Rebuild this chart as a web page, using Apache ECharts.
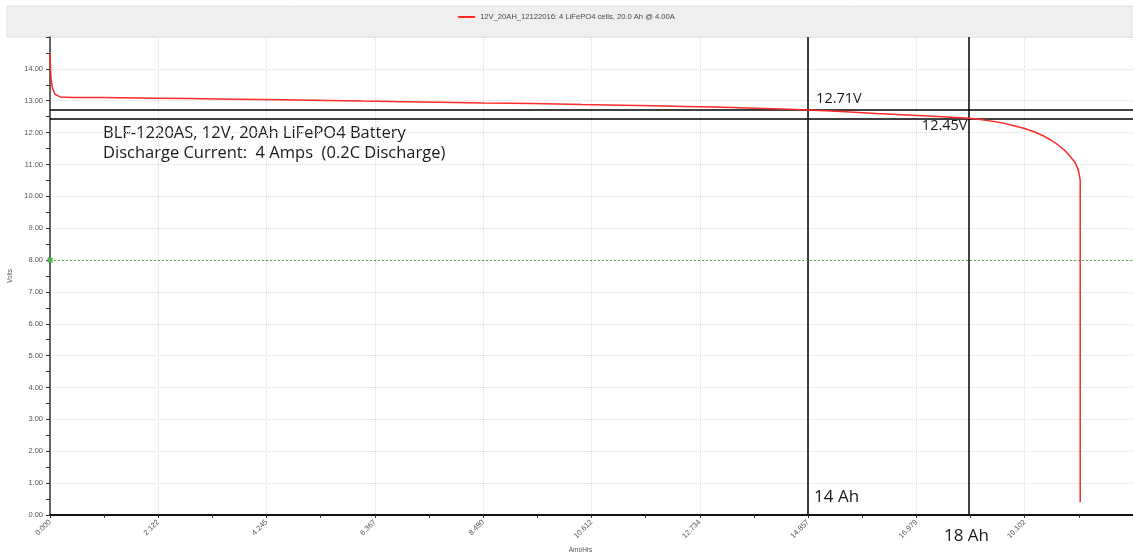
<!DOCTYPE html>
<html>
<head>
<meta charset="utf-8">
<script src="https://cdn.jsdelivr.net/npm/echarts@6/dist/echarts.min.js"></script>
<style>
  html, body { margin: 0; padding: 0; background: #ffffff; }
  #chart { width: 1133px; height: 552px; }
</style>
</head>
<body>
<div id="chart"></div>
<script>
// Discharge test of a 4-cell LiFePO4 pack at 4 A
const seriesName = '12V_20AH_12122016: 4 LiFePO4 cells, 20.0 Ah @ 4.00A';

const ampHours = [0, 0.01, 0.02, 0.05, 0.1, 0.2, 0.46, 1.0, 2.1, 2.73, 3.6, 4.56, 5.44, 6.14,
  6.92, 7.62, 8.5, 9.46, 10.42, 11.21, 11.82, 12.43, 13.04, 13.52, 14.0, 14.49, 14.86, 15.5,
  16.2, 17.0, 17.5, 18.0, 18.2, 18.45, 18.7, 18.91, 19.1, 19.3, 19.45, 19.62, 19.75, 19.88,
  19.98, 20.08, 20.14, 20.17, 20.19, 20.19];
const volts = [14.48, 14.0, 13.7, 13.38, 13.2, 13.12, 13.1, 13.1, 13.08, 13.07, 13.05, 13.03,
  13.01, 12.99, 12.97, 12.95, 12.93, 12.91, 12.88, 12.86, 12.84, 12.82, 12.8, 12.78, 12.76,
  12.73, 12.71, 12.66, 12.6, 12.54, 12.5, 12.45, 12.42, 12.36, 12.29, 12.21, 12.13, 12.02,
  11.91, 11.76, 11.62, 11.45, 11.28, 11.08, 10.88, 10.7, 10.5, 0.4];

const xTickStep = 2.12245;
const xTickLabels = ['0.000', '2.122', '4.245', '6.367', '8.490', '10.612', '12.734',
  '14.857', '16.979', '19.102', ''];
const yMax = 15;

const cutoffVolts = 8.0;
const refVolts = [12.71, 12.45];
const refVoltLabels = ['12.71V', '12.45V'];
const refAmpHours = [14.857, 18.0];
const refAmpLabels = ['14 Ah', '18 Ah'];
const noteLines = ['BLF-1220AS, 12V, 20Ah LiFePO4 Battery',
  'Discharge Current:  4 Amps  (0.2C Discharge)'];

const chart = echarts.init(document.getElementById('chart'), null, { renderer: 'canvas' });

const tickFont = { fontFamily: 'Liberation Sans', fontSize: 7.5, color: '#555' };
const noteFont = 'Open Sans';

const curve = ampHours.map((a, i) => [a, volts[i]]);
const blackLine = { color: '#000', width: 1.5, type: 'solid' };

const option = {
  animation: false,
  backgroundColor: '#ffffff',
  graphic: [
    {
      type: 'rect', z: -10, silent: true,
      shape: { x: 7, y: 6, width: 1126, height: 31 },
      style: { fill: '#efefef', stroke: '#e2e2e2', lineWidth: 1 }
    },
    {
      type: 'group', left: 103, top: 125, z: 20,
      children: noteLines.map((t, i) => ({
        type: 'text', x: 0, y: i * 20,
        style: { text: t, font: '16.5px "' + noteFont + '"', fill: '#1a1a1a' }
      }))
    }
  ],
  legend: {
    top: 8, left: 'center',
    icon: 'rect', itemWidth: 17, itemHeight: 2, itemGap: 6,
    textStyle: { fontFamily: 'Liberation Sans', fontSize: 7.6, color: '#444' },
    data: [seriesName]
  },
  grid: {
    left: 50, right: 0, top: 37, bottom: 37,
    containLabel: false, outerBoundsMode: 'none'
  },
  xAxis: {
    type: 'value', min: 0, max: xTickStep * 10, interval: xTickStep,
    name: 'AmpHrs', nameLocation: 'middle', nameGap: 28,
    nameTextStyle: { fontFamily: 'Liberation Sans', fontSize: 6.5, color: '#555', padding: [0, 22, 0, 0] },
    axisLine: { lineStyle: { color: '#111', width: 2 } },
    axisTick: { show: true, length: 3, lineStyle: { color: '#333' } },
    minorTick: { show: true, splitNumber: 2, length: 3, lineStyle: { color: '#333' } },
    axisLabel: Object.assign({}, tickFont, {
      rotate: 45, margin: 6,
      formatter: v => xTickLabels[Math.round(v / xTickStep)] || ''
    }),
    splitLine: { show: true, lineStyle: { color: '#dddddd', type: 'dotted', width: 1 } }
  },
  yAxis: {
    type: 'value', min: 0, max: yMax, interval: 1,
    name: 'Volts', nameLocation: 'middle', nameGap: 29,
    nameTextStyle: { fontFamily: 'Liberation Sans', fontSize: 6.5, color: '#555' },
    axisLine: { show: true, lineStyle: { color: '#333', width: 1.5 } },
    axisTick: { show: true, length: 4, lineStyle: { color: '#333' } },
    minorTick: { show: true, splitNumber: 2, length: 4, lineStyle: { color: '#333' } },
    axisLabel: Object.assign({}, tickFont, {
      margin: 7,
      formatter: v => (v >= yMax ? '' : v.toFixed(2))
    }),
    splitLine: { show: true, lineStyle: { color: '#dddddd', type: 'dotted', width: 1 } }
  },
  series: [
    {
      name: seriesName, type: 'line', data: curve,
      showSymbol: false, symbol: 'none', smooth: false, clip: false,
      lineStyle: { color: '#ff2a2a', width: 1.5 },
      itemStyle: { color: '#ff2a2a' },
      z: 5
    },
    {
      // reference lines and their labels
      type: 'line', data: [], silent: true, z: 6,
      markLine: {
        silent: true, symbol: ['none', 'none'], animation: false,
        label: { show: false },
        data: [
          { yAxis: refVolts[0], lineStyle: blackLine },
          { yAxis: refVolts[1], lineStyle: blackLine },
          { xAxis: refAmpHours[0], lineStyle: blackLine },
          { xAxis: refAmpHours[1], lineStyle: blackLine },
          {
            yAxis: cutoffVolts, symbol: ['triangle', 'none'], symbolSize: 5, symbolRotate: -90,
            lineStyle: { color: '#4cb34c', width: 1, type: [2, 2] },
            itemStyle: { color: '#2e9e2e' }
          }
        ]
      },
      markPoint: {
        silent: true, symbol: 'circle', symbolSize: 0,
        label: {
          show: true, fontFamily: noteFont, fontSize: 14.5, color: '#1a1a1a'
        },
        data: [
          { coord: [refAmpHours[0], refVolts[0]],
            label: { formatter: refVoltLabels[0], position: 'right', offset: [3, -11] } },
          { coord: [refAmpHours[1], refVolts[1]],
            label: { formatter: refVoltLabels[1], position: 'left', offset: [4, 8] } },
          { coord: [refAmpHours[0], 0],
            label: { formatter: refAmpLabels[0], position: 'right', offset: [1, -18], fontSize: 17 } },
          { coord: [refAmpHours[1], 0],
            label: { formatter: refAmpLabels[1], position: 'bottom', offset: [-2, 8], fontSize: 17 } }
        ]
      }
    }
  ]
};

chart.setOption(option);
</script>
</body>
</html>
